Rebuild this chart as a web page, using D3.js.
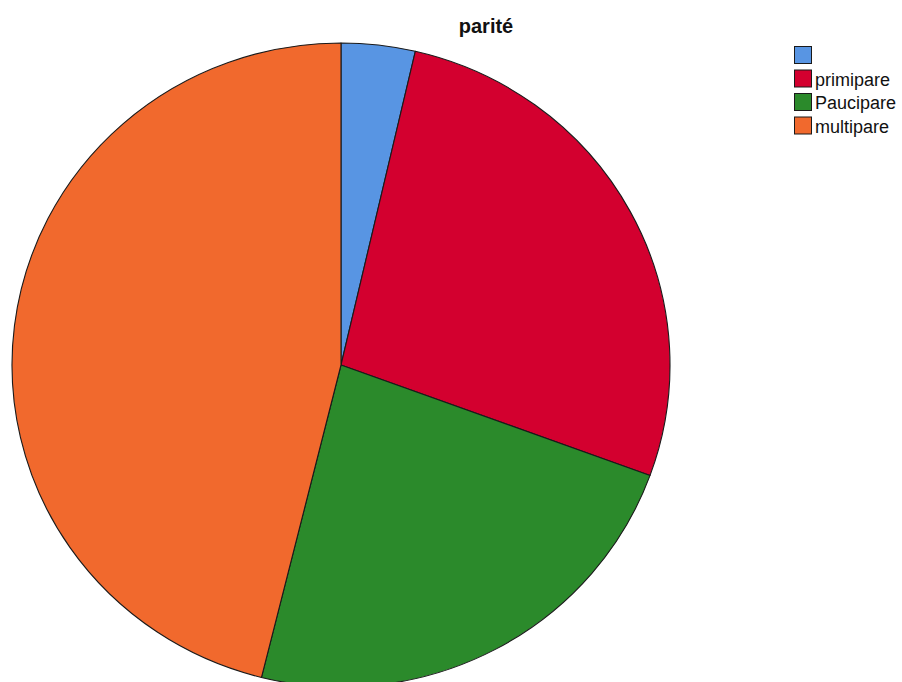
<!DOCTYPE html>
<html>
<head>
<meta charset="utf-8">
<script src="https://cdn.jsdelivr.net/npm/d3@7"></script>
<style>
  html, body { margin: 0; padding: 0; background: #ffffff; }
  svg { display: block; }
  text { font-family: "Liberation Sans", Arial, sans-serif; }
</style>
</head>
<body>
<svg id="chart" width="902" height="682"></svg>
<script>
// Categories of parity (the first one is an unlabelled / blank group)
const categories = ["", "primipare", "Paucipare", "multipare"];
// Counts per category
const counts = [7, 52, 45, 89];
const colors = ["#5895e3", "#d3002f", "#2b8a2b", "#f1692d"];
const title = "parité";

const svg = d3.select("#chart");

const cx = 341, cy = 365;
const ry = 322, rx = 329;

const data = categories.map((c, i) => ({ name: c, value: counts[i], color: colors[i] }));

const pie = d3.pie().sort(null).value(d => d.value);
const arc = d3.arc().innerRadius(0).outerRadius(ry);

const g = svg.append("g")
  .attr("transform", `translate(${cx},${cy}) scale(${rx / ry},1)`);

g.selectAll("path")
  .data(pie(data))
  .join("path")
  .attr("d", arc)
  .attr("fill", d => d.data.color)
  .attr("stroke", "#1a1a1a")
  .attr("stroke-width", 1.1)
  .attr("stroke-linejoin", "round")
  .attr("vector-effect", "non-scaling-stroke");

// Title
svg.append("text")
  .attr("x", 486)
  .attr("y", 33)
  .attr("text-anchor", "middle")
  .attr("font-size", 20)
  .attr("font-weight", "bold")
  .attr("fill", "#111")
  .text(title);

// Legend
const legend = svg.append("g").attr("transform", "translate(794,46)");
const rowH = 23.5, box = 17;
const items = legend.selectAll("g.item")
  .data(data)
  .join("g")
  .attr("class", "item")
  .attr("transform", (d, i) => `translate(0,${i * rowH})`);

items.append("rect")
  .attr("x", 0.5).attr("y", 0.5)
  .attr("width", box).attr("height", box)
  .attr("fill", d => d.color)
  .attr("stroke", "#1a1a1a")
  .attr("stroke-width", 1);

items.append("text")
  .attr("x", box + 4)
  .attr("y", box - 1)
  .attr("font-size", 18)
  .attr("fill", "#111")
  .text(d => d.name);
</script>
</body>
</html>
